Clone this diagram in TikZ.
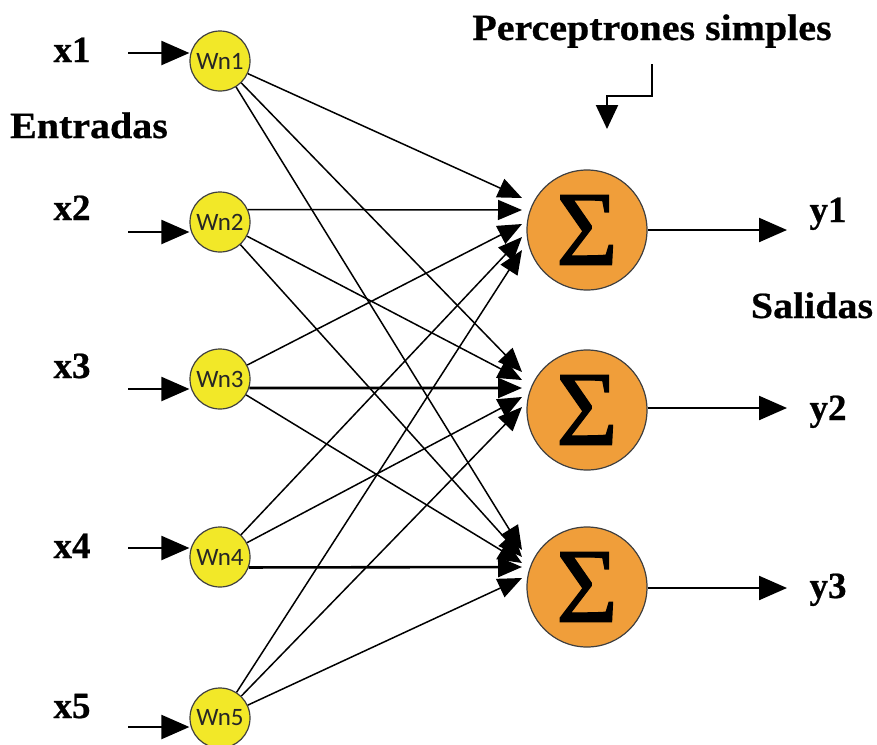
\documentclass[tikz,border=0pt]{standalone}
\usepackage{fontspec}
\setmainfont{Liberation Serif}
\newfontfamily\lblfont{Liberation Serif Bold}[FakeBold=0.6]
\newfontfamily\widefont{Liberation Serif Bold}[FakeBold=0.6,FakeStretch=1.08]
\newfontfamily\sigfont{Liberation Serif}[FakeBold=1.2]
\newfontfamily\wnfont{Carlito}
\usetikzlibrary{arrows.meta,calc}
\definecolor{wnyellow}{RGB}{242,232,40}
\definecolor{sigorange}{RGB}{240,158,58}
\begin{document}
\begin{tikzpicture}[x=1pt,y=-1pt,
 wn/.style={circle,draw=black!75,line width=1.2pt,fill=wnyellow,minimum size=60pt,inner sep=0pt,font=\wnfont\fontsize{25}{25}\selectfont,text=black!85},
 sig/.style={circle,draw=black!75,line width=1.2pt,fill=sigorange,minimum size=120pt,inner sep=0pt,font=\sigfont\fontsize{106}{106}\selectfont},
 lbl/.style={font=\lblfont\fontsize{37}{40}\selectfont,inner sep=0pt,anchor=base},
 wlbl/.style={font=\widefont\fontsize{37}{40}\selectfont,inner sep=0pt,anchor=base},
 conn/.style={line width=1.5pt,-{Triangle[length=24pt,width=20pt]}},
 thickconn/.style={conn,line width=2.6pt},
 io/.style={line width=2.2pt,-{Triangle[length=28pt,width=24pt]}}]
\useasboundingbox (0,0) rectangle (877,744);
\fill[white] (0,0) rectangle (877,744);

% weight nodes
\node[wn] (w1) at (220,61) {Wn1};
\node[wn] (w2) at (220,222) {Wn2};
\node[wn] (w3) at (220,379) {Wn3};
\node[wn] (w4) at (220,557) {Wn4};
\node[wn] (w5) at (220,718) {Wn5};

% summation nodes
\node[sig] (s1) at (587,230) {Σ};
\node[sig] (s2) at (587,410) {Σ};
\node[sig] (s3) at (587,587) {Σ};

% input labels
\node[lbl] (x1) at (72,62) {x1};
\node[lbl] (x2) at (72,220) {x2};
\node[lbl] (x3) at (72,378) {x3};
\node[lbl] (x4) at (72,558) {x4};
\node[lbl] (x5) at (72,718) {x5};
\node[wlbl] (ent) at (89,138) {Entradas};

% output labels
\node[lbl] (y1) at (828,222) {y1};
\node[lbl] (y2) at (828,420) {y2};
\node[lbl] (y3) at (828,598) {y3};
\node[wlbl] (sal) at (812,318) {Salidas};
\node[wlbl] (per) at (652,40) {Perceptrones simples};

% input arrows
\coordinate (i1) at (128,53);
\coordinate (i2) at (128,232);
\coordinate (i3) at (128,389);
\coordinate (i4) at (128,548);
\coordinate (i5) at (128,727);
\foreach \k in {1,...,5}{
  \draw[io] (i\k) -- (i\k -| w\k.west);
}

% output arrows
\coordinate (o1) at (787,230);
\coordinate (o2) at (787,408);
\coordinate (o3) at (787,588);
\draw[io] (s1.east |- o1) -- (o1);
\draw[io] (s2.east |- o2) -- (o2);
\draw[io] (s3.east |- o3) -- (o3);

% connectors
\draw[conn] (w1) -- ([shift={(-65,-32)}]s1.center);
\draw[conn] (w1) -- ([shift={(-65,-38)}]s2.center);
\draw[conn] (w1) -- ([shift={(-65,-37)}]s3.center);
\draw[conn] (w2.24) -- ([shift={(-65,-20)}]s1.center);
\draw[conn] (w2) -- ([shift={(-65,-30)}]s2.center);
\draw[conn] (w2) -- ([shift={(-65,-30)}]s3.center);
\draw[conn] (w3) -- ([shift={(-65,-6)}]s1.center);
\draw[thickconn] (w3.-17) -- ([shift={(-65,-22)}]s2.center);
\draw[conn] (w3) -- ([shift={(-65,-24)}]s3.center);
\draw[conn] (w4) -- ([shift={(-65,7)}]s1.center);
\draw[conn] (w4) -- ([shift={(-65,-13)}]s2.center);
\draw[thickconn] (w4.-20) -- ([shift={(-65,-20)}]s3.center);
\draw[conn] (w5) -- ([shift={(-65,20)}]s1.center);
\draw[conn] (w5) -- ([shift={(-65,-3)}]s2.center);
\draw[conn] (w5) -- ([shift={(-65,-9)}]s3.center);

% bent arrow under title
\coordinate (p1) at (652,64);
\coordinate (p2) at (652,96);
\coordinate (p3) at (607,96);
\coordinate (p4) at (607,129);
\draw[line width=2.2pt,-{Triangle[length=24pt,width=22pt]}] (p1) -- (p2) -- (p3) -- (p4);
\end{tikzpicture}
\end{document}
